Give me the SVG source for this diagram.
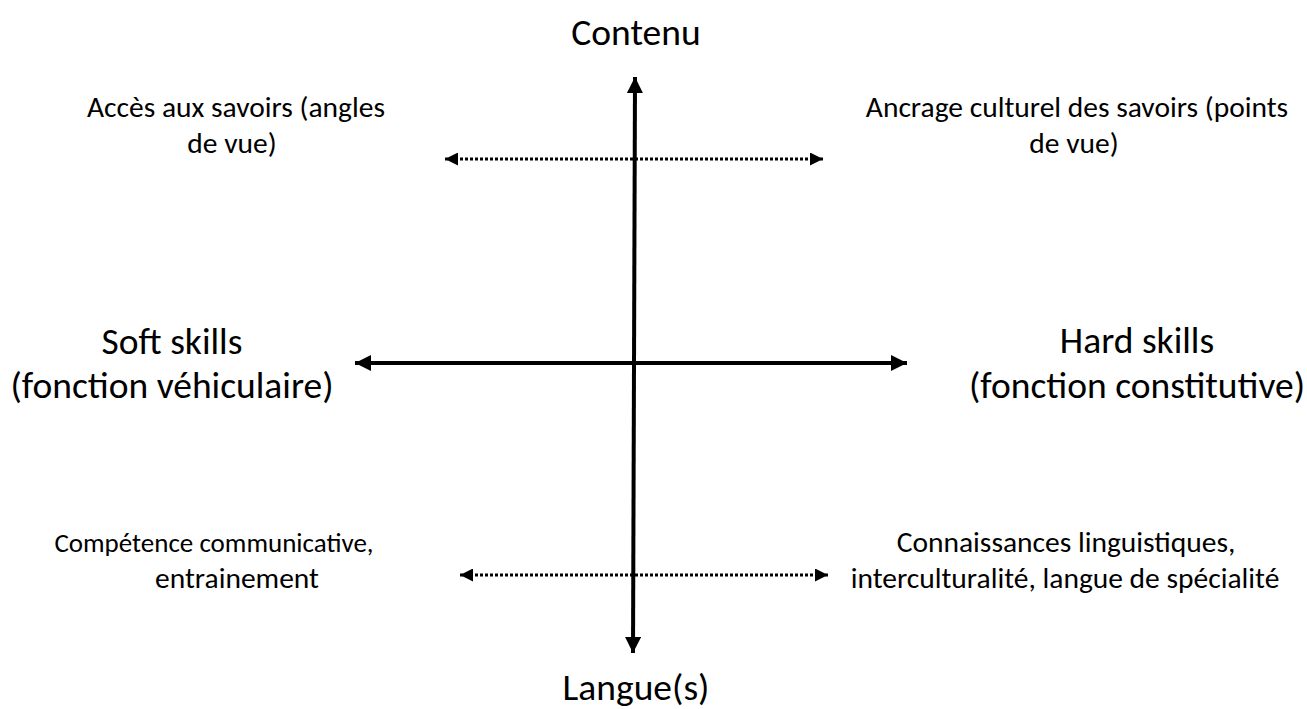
<svg xmlns="http://www.w3.org/2000/svg" width="1307" height="709" viewBox="0 0 1307 709">
<style>
text{font-family:Carlito,Lato,"Open Sans",sans-serif;fill:#000;text-anchor:middle}
.big{font-size:37.5px}
.small{font-size:29.5px}
.axis{stroke:#000;stroke-width:4;fill:none}
.dot{stroke:#000;stroke-width:3;fill:none;stroke-dasharray:3 2}
</style>
<defs>
<marker id="ah" markerUnits="userSpaceOnUse" markerWidth="16" markerHeight="16" refX="16" refY="8" orient="auto-start-reverse" viewBox="0 0 16 16">
<path d="M0,0 L16,8 L0,16 Z" fill="#000"/>
</marker>
<marker id="dh" markerUnits="userSpaceOnUse" markerWidth="13" markerHeight="13" refX="13" refY="6.5" orient="auto-start-reverse" viewBox="0 0 13 13">
<path d="M0,0 L13,6.5 L0,13 Z" fill="#000"/>
</marker>
</defs>
<g id="connectors">
<line class="axis" x1="635" y1="77" x2="633" y2="653" marker-start="url(#ah)" marker-end="url(#ah)"/>
<line class="axis" x1="355" y1="363" x2="907" y2="363" marker-start="url(#ah)" marker-end="url(#ah)"/>
<line class="dot" x1="445" y1="159" x2="823" y2="159" marker-start="url(#dh)" marker-end="url(#dh)"/>
<line class="dot" x1="460" y1="575" x2="828" y2="575" marker-start="url(#dh)" marker-end="url(#dh)"/>
</g>
<g id="contenu"><text class="big" x="636" y="45">Contenu</text></g>
<g id="langues"><text class="big" x="636" y="700">Langue(s)</text></g>
<g id="soft"><text class="big" x="172" y="354">Soft skills</text><text class="big" x="172" y="398">(fonction véhiculaire)</text></g>
<g id="hard"><text class="big" x="1137" y="353">Hard skills</text><text class="big" x="1137" y="398">(fonction constitutive)</text></g>
<g id="acces"><text class="small" x="236" y="117">Accès aux savoirs (angles</text><text class="small" x="232" y="153">de vue)</text></g>
<g id="ancrage"><text class="small" x="1077" y="117">Ancrage culturel des savoirs (points</text><text class="small" x="1074" y="153">de vue)</text></g>
<g id="competence"><text class="small" x="214" y="552" style="font-size:27px">Compétence communicative,</text><text class="small" x="237" y="588">entrainement</text></g>
<g id="connaissances"><text class="small" x="1066" y="552">Connaissances linguistiques,</text><text class="small" x="1065" y="588">interculturalité, langue de spécialité</text></g>
</svg>
